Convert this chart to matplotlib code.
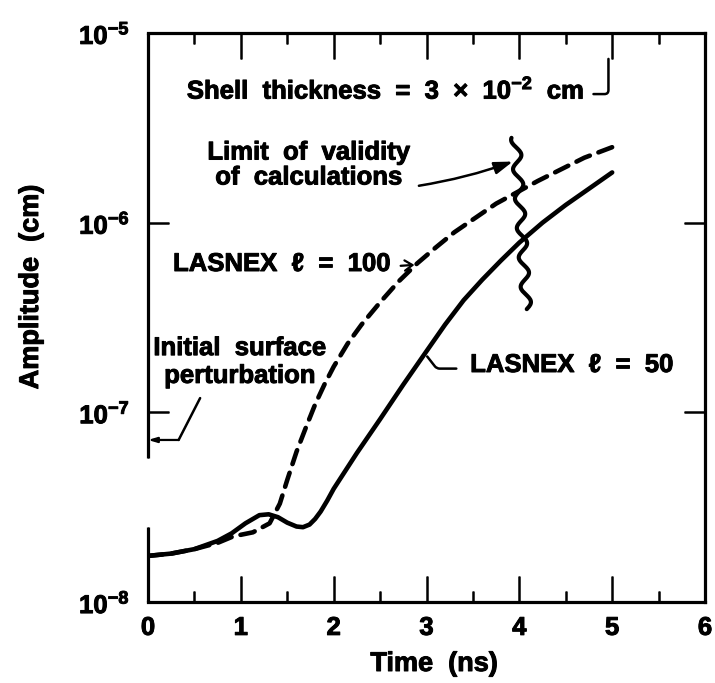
import numpy as np
import matplotlib
matplotlib.use("Agg")
import matplotlib.pyplot as plt
import matplotlib.patheffects as pe
from matplotlib.ticker import MultipleLocator, NullLocator, FixedLocator

plt.rcParams['font.family'] = ['Liberation Sans', 'DejaVu Sans']
plt.rcParams['font.weight'] = 'bold'
plt.rcParams['mathtext.fontset'] = 'custom'
plt.rcParams['mathtext.rm'] = 'Liberation Sans:bold'
plt.rcParams['mathtext.bf'] = 'Liberation Sans:bold'
plt.rcParams['mathtext.it'] = 'Liberation Sans:bold'
# heavier lettering
plt.rcParams['path.effects'] = [pe.withStroke(linewidth=0.7, foreground='black')]

# LASNEX l = 50 run
t_l50 = [0.0, 0.25, 0.5, 0.75, 0.9, 1.05, 1.2, 1.3, 1.4, 1.5, 1.6, 1.67,
         1.74, 1.8, 1.86, 1.93, 2.0, 2.25, 2.5, 2.75, 3.0, 3.2, 3.4, 3.6,
         3.8, 4.0, 4.25, 4.5, 4.75, 5.0]
amp_l50 = [1.75e-8, 1.8e-8, 1.9e-8, 2.1e-8, 2.3e-8, 2.6e-8, 2.87e-8, 2.9e-8,
           2.8e-8, 2.62e-8, 2.5e-8, 2.48e-8, 2.56e-8, 2.74e-8, 3.0e-8,
           3.42e-8, 3.95e-8, 6.1e-8, 9.2e-8, 1.4e-7, 2.1e-7, 2.9e-7, 3.9e-7,
           5.0e-7, 6.3e-7, 7.85e-7, 1.0e-6, 1.24e-6, 1.51e-6, 1.84e-6]

# LASNEX l = 100 run
t_l100 = [0.0, 0.25, 0.5, 0.75, 0.92, 1.13, 1.31, 1.42, 1.5, 1.6, 1.7, 1.8,
          1.9, 2.0, 2.15, 2.3, 2.5, 2.7, 2.9, 3.1, 3.3, 3.75, 4.2, 4.7, 5.0]
amp_l100 = [1.75e-8, 1.8e-8, 1.9e-8, 2.05e-8, 2.22e-8, 2.33e-8, 2.6e-8,
            3.3e-8, 4.4e-8, 6.2e-8, 8.3e-8, 1.1e-7, 1.4e-7, 1.74e-7, 2.3e-7,
            2.9e-7, 3.8e-7, 4.9e-7, 6.1e-7, 7.4e-7, 8.9e-7, 1.26e-6, 1.66e-6,
            2.2e-6, 2.5e-6]

# limit of validity of the calculations
t_limit = 4.02
amp_limit = (3.5e-7, 2.8e-6)
initial_amp = 7.15e-8

y_ticks = [1e-8, 1e-7, 1e-6, 1e-5]
y_ticklabels = [r'$10^{-8}$', r'$10^{-7}$', r'$10^{-6}$', r'$10^{-5}$']

W, H = 715, 683
fig = plt.figure(figsize=(W / 100, H / 100), dpi=100)
ax = fig.add_axes([148 / W, 1 - 602 / H, 557 / W, 569 / H])


def fpx(x, y):
    # pixel position (from the top-left) -> figure fraction
    return x / W, 1 - y / H


ax.plot(t_l50, amp_l50, color='black', lw=3.3, solid_capstyle='round',
        solid_joinstyle='round')
ax.plot(t_l100, amp_l100, color='black', lw=3.3, dashes=(3.2, 2.0),
        dash_capstyle='round')

# squiggle marking where the calculations stop being valid
ly = np.linspace(np.log10(amp_limit[0]), np.log10(amp_limit[1]), 200)
lx = t_limit + 0.05 * np.sin((ly - ly[0]) * 2 * np.pi / 0.155) - 0.12 * (ly - ly[0]) / (ly[-1] - ly[0]) + 0.06
ax.plot(lx, 10 ** ly, color='black', lw=3.0, solid_capstyle='round')

ax.set_xlim(0, 6)
ax.set_yscale('log')
ax.set_ylim(1e-8, 1e-5)
ax.xaxis.set_major_locator(MultipleLocator(1))
ax.xaxis.set_minor_locator(MultipleLocator(0.5))
ax.yaxis.set_major_locator(FixedLocator(y_ticks))
ax.yaxis.set_minor_locator(NullLocator())
ax.set_yticklabels(y_ticklabels)

ax.tick_params(axis='x', which='major', direction='in', top=True, length=19,
               width=1.8, labelsize=18.5, pad=10)
ax.tick_params(axis='x', which='minor', direction='in', top=True, length=8,
               width=1.8)
ax.tick_params(axis='y', which='major', direction='in', right=True, length=15,
               width=1.8, labelsize=18.5, pad=13)

for side in ['top', 'right', 'bottom']:
    ax.spines[side].set_linewidth(2.3)
ax.spines['left'].set_visible(False)
# left frame line, broken a little above the foot
for y0, y1 in [(0.0, 0.132), (0.253, 1.0)]:
    ax.plot([0, 0], [y0, y1], transform=ax.transAxes, color='black',
            lw=2.3, clip_on=False, solid_capstyle='butt')

fig.text(*fpx(31, 287), 'Amplitude  (cm)', rotation=90, ha='center',
         va='center', fontsize=19.5, fontweight='bold')
fig.text(*fpx(434, 664), 'Time  (ns)', ha='center', va='center',
         fontsize=19.5, fontweight='bold')

txt_kw = dict(fontsize=18.5, fontweight='bold', textcoords='figure fraction',
              xycoords='data')

ax.annotate(r'Shell  thickness  =  3  $\times$  10$^{-2}$  cm',
            xy=(4.96, 7.3e-6), xytext=fpx(386, 90), ha='center', va='center',
            arrowprops=dict(arrowstyle='-', lw=1.8, color='black',
                            relpos=(1, 0.35), shrinkA=4, shrinkB=0,
                            connectionstyle='angle,angleA=0,angleB=90,rad=4'),
            **txt_kw)

ax.annotate('Limit  of  validity\nof  calculations', xy=(3.93, 2.1e-6),
            xytext=fpx(309, 165), ha='center', va='center',
            multialignment='center', linespacing=1.05,
            arrowprops=dict(arrowstyle='-|>,head_length=0.6,head_width=0.2',
                            lw=1.8, color='black', relpos=(1, 0.05),
                            shrinkA=4, shrinkB=0,
                            connectionstyle='arc3,rad=0.05'),
            **txt_kw)

ax.annotate('LASNEX  \u2113  =  100', xy=(2.9, 6.0e-7), xytext=fpx(282, 264),
            ha='center', va='center',
            arrowprops=dict(arrowstyle='->,head_length=0.3,head_width=0.2',
                            lw=1.6, color='black', relpos=(1, 0.4),
                            shrinkA=5, shrinkB=2),
            **txt_kw)

ax.annotate('LASNEX  \u2113  =  50', xy=(2.98, 2.05e-7), xytext=fpx(572, 365),
            ha='center', va='center',
            arrowprops=dict(arrowstyle='-', lw=1.8, color='black',
                            relpos=(0, 0.35), shrinkA=8, shrinkB=3,
                            connectionstyle='angle,angleA=0,angleB=-52,rad=3'),
            **txt_kw)

ax.annotate('Initial  surface\nperturbation', xy=(0.33, initial_amp),
            xytext=fpx(240, 362), ha='center', va='center',
            multialignment='center', linespacing=1.2,
            arrowprops=dict(arrowstyle='-', lw=1.8, color='black',
                            relpos=(0.3, 0.0), shrinkA=6, shrinkB=0),
            **txt_kw)
ax.annotate('', xy=(0.0, initial_amp), xytext=(0.33, initial_amp),
            arrowprops=dict(arrowstyle='-|>,head_length=0.5,head_width=0.15',
                            lw=1.6, color='black', shrinkA=0, shrinkB=0))

fig.savefig('out.png', dpi=100)
